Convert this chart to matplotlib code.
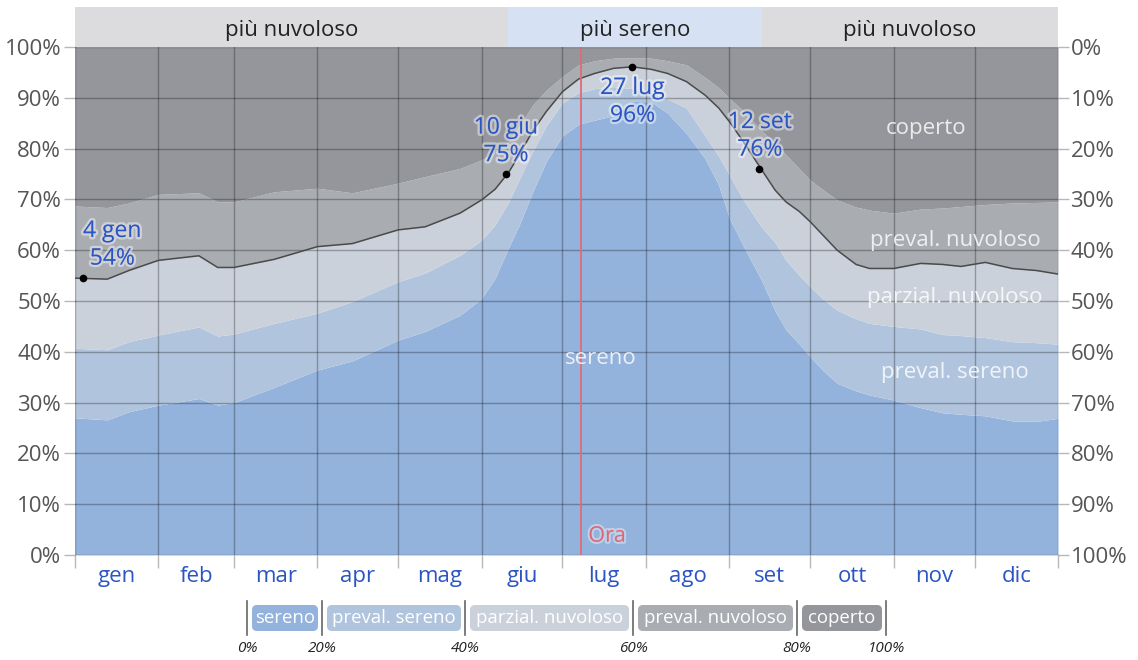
import matplotlib
matplotlib.use('Agg')
import matplotlib.pyplot as plt
import matplotlib.patheffects as pe
from matplotlib.patches import FancyBboxPatch

# ---------------- data ----------------
days = [0, 12, 20, 31, 46, 53, 59, 74, 90, 103, 120, 130, 143, 151, 156, 161, 165,
        170, 175, 181, 187, 193, 200, 207, 214, 220, 227, 234, 239, 243, 248, 255,
        260, 264, 269, 273, 278, 283, 290, 295, 304, 314, 322, 329, 338, 348, 357, 365]

# cumulative tops of each category (% of time)
sereno_top = [27.0, 26.6, 28.2, 29.5, 30.8, 29.5, 30.0, 33.0, 36.4, 38.2, 42.3, 44.0, 47.2,
              50.5, 54.5, 60.5, 65.0, 71.5, 77.5, 82.5, 84.8, 85.6, 86.5, 89.3, 89.2, 87.0,
              83.0, 78.0, 72.8, 66.3, 61.0, 54.0, 48.0, 44.3, 41.5, 39.0, 36.2, 33.8, 32.3,
              31.5, 30.5, 29.0, 28.0, 27.7, 27.4, 26.4, 26.3, 26.9]
preval_sereno_top = [40.7, 40.4, 42.0, 43.3, 44.9, 43.1, 43.5, 45.6, 47.6, 49.9, 53.8, 55.5,
                     59.0, 62.0, 65.0, 69.5, 74.0, 79.5, 84.5, 89.0, 91.0, 91.8, 92.2, 91.8,
                     91.0, 89.8, 88.0, 82.5, 78.5, 74.8, 70.0, 64.5, 61.5, 58.0, 55.0, 52.8,
                     50.3, 48.2, 46.5, 45.6, 45.0, 44.5, 43.4, 43.2, 42.8, 42.0, 41.8, 41.5]
parzial_nuvoloso_top = [54.5, 54.3, 56.0, 58.0, 58.9, 56.6, 56.6, 58.2, 60.7, 61.3, 64.0, 64.6,
                        67.3, 69.9, 72.0, 75.3, 78.8, 83.5, 87.3, 91.2, 93.7, 94.8, 95.8, 96.1,
                        95.6, 94.8, 93.2, 90.5, 88.0, 85.3, 81.5, 75.8, 71.8, 69.5, 67.6, 65.6,
                        62.8, 60.0, 57.2, 56.4, 56.4, 57.4, 57.2, 56.8, 57.6, 56.4, 56.0, 55.3]
preval_nuvoloso_top = [68.7, 68.4, 69.3, 71.0, 71.3, 69.5, 69.5, 71.5, 72.2, 71.3, 73.2, 74.5,
                       76.1, 77.8, 79.3, 81.4, 84.5, 88.6, 91.5, 94.2, 96.5, 97.3, 97.8, 97.9,
                       97.8, 97.3, 96.5, 94.0, 92.0, 89.9, 87.5, 83.5, 81.0, 78.8, 76.0, 73.8,
                       71.8, 69.9, 68.5, 67.9, 67.3, 68.1, 68.3, 68.6, 69.0, 69.3, 69.4, 69.5]

month_labels = ['gen', 'feb', 'mar', 'apr', 'mag', 'giu', 'lug', 'ago', 'set', 'ott', 'nov', 'dic']
month_starts = [0, 31, 59, 90, 120, 151, 181, 212, 243, 273, 304, 334, 365]

category_names = ['sereno', 'preval. sereno', 'parzial. nuvoloso', 'preval. nuvoloso', 'coperto']
legend_pct_labels = ['0%', '20%', '40%', '60%', '80%', '100%']

annot_days = [3, 160, 207, 254]
annot_labels = ['4 gen', '10 giu', '27 lug', '12 set']
annot_values = [54.5, 75, 96, 76]

band_edges = [0, 160.8, 255, 365]
band_labels = ['più nuvoloso', 'più sereno', 'più nuvoloso']
now_day = 188

# ---------------- style ----------------
W, H = 1138, 660
FONT = 'Open Sans'
plt.rcParams['font.family'] = [FONT, 'DejaVu Sans']
colors = ['#93b2dc', '#b1c4de', '#cbd1db', '#a9acb1', '#94969b']
grid_col = (0, 0, 0, 0.28)
blue_txt = '#2a55c2'

fig = plt.figure(figsize=(W / 100, H / 100), dpi=100)

def ax_rect(x0, y0, x1, y1):
    return [x0 / W, 1 - y1 / H, (x1 - x0) / W, (y1 - y0) / H]

ax = fig.add_axes(ax_rect(75, 47, 1058, 555))
ax.set_xlim(0, 365)
ax.set_ylim(0, 100)

zeros = [0] * len(days)
hundreds = [100] * len(days)
layers = [zeros, sereno_top, preval_sereno_top, parzial_nuvoloso_top, preval_nuvoloso_top, hundreds]
for i in range(5):
    ax.fill_between(days, layers[i], layers[i + 1], color=colors[i], lw=0, zorder=1)
ax.plot(days, parzial_nuvoloso_top, color='#4a4a4a', lw=1.1, zorder=3)

# grid
for v in range(0, 101, 10):
    ax.axhline(v, color=grid_col, lw=1, zorder=2)
for m in month_starts:
    ax.axvline(m, color=grid_col, lw=1, zorder=2)

for s in ax.spines.values():
    s.set_visible(False)
ax.set_yticks(range(0, 101, 10))
ax.set_yticklabels([f'{v}%' for v in range(0, 101, 10)])
ax.set_xticks(month_starts)
ax.set_xticklabels([])
ax.tick_params(axis='both', length=8, width=1, color=grid_col, labelsize=16,
               labelcolor='#555555', pad=2)
ax.tick_params(axis='x', length=9)

mids = [(month_starts[i] + month_starts[i + 1]) / 2 for i in range(12)]
for x, lab in zip(mids, month_labels):
    ax.text(x, -4.2, lab, ha='center', va='center', fontsize=16, color=blue_txt)

ax2 = ax.twinx()
ax2.set_ylim(0, 100)
ax2.set_yticks(range(0, 101, 10))
ax2.set_yticklabels([f'{100 - v}%' for v in range(0, 101, 10)])
ax2.tick_params(axis='y', length=8, width=1, color=grid_col, labelsize=16,
                labelcolor='#555555', pad=1)
for s in ax2.spines.values():
    s.set_visible(False)

# now line
ax.axvline(now_day, color='#e06a78', lw=1.3, zorder=4)
ax.text(now_day + 2.6, 3.7, 'Ora', ha='left', va='center', fontsize=15.5, color='#d9687a',
        zorder=6, path_effects=[pe.withStroke(linewidth=3, foreground=(1, 1, 1, 0.4))])

# annotations
offsets = [(21, 24), (0, 23.5), (0, -24.8), (0.5, 23.8)]
halo = [pe.withStroke(linewidth=3.5, foreground=(1, 1, 1, 0.45))]
for d, lab, v, off in zip(annot_days, annot_labels, annot_values, offsets):
    ax.plot([d], [v], 'o', color='black', ms=4.5, zorder=5)
    ax.annotate(f'{lab}\n{int(round(v))}%', (d, v), xytext=off, textcoords='offset points',
                ha='center', va='center', fontsize=16.5, color=blue_txt, linespacing=1.2,
                zorder=6, path_effects=halo)

# inner category labels
inner_txt = (1, 1, 1, 0.82)
ax.text(316, 83.9, 'coperto', ha='center', va='center', fontsize=16, color=inner_txt, zorder=6)
ax.text(326.8, 62.0, 'preval. nuvoloso', ha='center', va='center', fontsize=16, color=inner_txt, zorder=6)
ax.text(326.8, 50.6, 'parzial. nuvoloso', ha='center', va='center', fontsize=16, color=inner_txt, zorder=6)
ax.text(326.8, 36.0, 'preval. sereno', ha='center', va='center', fontsize=16, color=inner_txt, zorder=6)
ax.text(195.3, 38.6, 'sereno', ha='center', va='center', fontsize=16, color=inner_txt, zorder=6)

# top band
axb = fig.add_axes(ax_rect(75, 7, 1058, 47))
axb.set_xlim(0, 365)
axb.set_ylim(0, 1)
axb.axis('off')
band_cols = ['#dcdcdf', '#d6e2f3', '#dcdcdf']
for i in range(3):
    axb.axvspan(band_edges[i], band_edges[i + 1], color=band_cols[i], lw=0)
    axb.text((band_edges[i] + band_edges[i + 1]) / 2, 0.42, band_labels[i], ha='center',
             va='center', fontsize=16, color='#222222')

# legend (pixel layout)
axl = fig.add_axes([0, 0, 1, 1])
axl.set_xlim(0, W)
axl.set_ylim(H, 0)
axl.axis('off')
seps = [247, 322, 465, 633, 797, 886]
for x, lab in zip(seps, legend_pct_labels):
    axl.plot([x, x], [601, 635], color='#666666', lw=1.2)
    axl.text(x, 648, lab, ha='center', va='center', fontsize=11, style='italic', color='#222222')
for i, name in enumerate(category_names):
    x0, x1 = seps[i] + 5, seps[i + 1] - 4
    box = FancyBboxPatch((x0, 605), x1 - x0, 26, boxstyle='round,pad=0,rounding_size=5',
                         fc=colors[i], ec='none')
    axl.add_patch(box)
    axl.text((x0 + x1) / 2, 618, name, ha='center', va='center', fontsize=13.4, color='white')

fig.savefig('out.png', dpi=100)
